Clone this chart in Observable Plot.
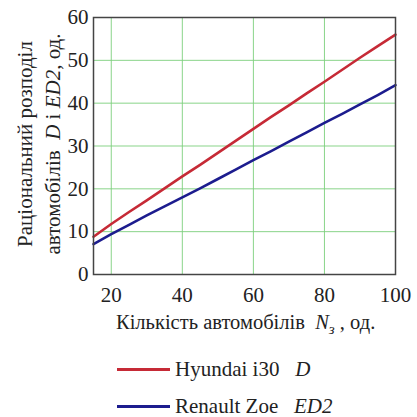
<!DOCTYPE html>
<html><head><meta charset="utf-8">
<script src="https://cdn.jsdelivr.net/npm/d3@7"></script>
<script src="https://cdn.jsdelivr.net/npm/@observablehq/plot@0.6"></script>
<style>
body{margin:0;background:#fff;color:#222;}
#wrap, #wrap *, svg text{font-family:'Liberation Serif' !important;}
#wrap{position:relative;width:417px;height:417px;overflow:hidden;}
#chart{position:absolute;left:0;top:0;}
.ylab{position:absolute;white-space:nowrap;font-size:21px;line-height:1;transform:translate(-50%,-50%) rotate(-90deg);}
#xlab{position:absolute;left:116px;top:312px;font-size:20.5px;line-height:1;white-space:nowrap;}
.leg{position:absolute;left:117px;font-size:21px;line-height:1;white-space:nowrap;display:flex;align-items:center;height:22px;}
.leg span.sw{display:inline-block;width:53px;height:3px;margin-right:5px;}
i{font-style:italic;}
</style></head>
<body><div id="wrap"><div id="chart"></div>
<div class="ylab" style="left:25px;top:144px;font-family:'Liberation Serif'">Раціональний розподіл</div>
<div class="ylab" style="left:53px;top:144px;font-family:'Liberation Serif'">автомобілів&nbsp; <i>D</i> і <i>ED2</i>, од.</div>
<div id="xlab" style="font-family:'Liberation Serif'">Кількість автомобілів&nbsp; <i>N</i><sub style="font-size:15px"><i>з</i></sub> , од.</div>
<div class="leg" style="top:358px;font-family:'Liberation Serif'"><span class="sw" style="background:#c62a36"></span>Hyundai i30&nbsp;&nbsp;&nbsp;<i>D</i></div>
<div class="leg" style="top:395px;font-family:'Liberation Serif'"><span class="sw" style="background:#1c1c8e"></span>Renault Zoe&nbsp;&nbsp;&nbsp;<i>ED2</i></div>
</div>
<script>
const nValues = [15,20,25,30,35,40,45,50,55,60,65,70,75,80,85,90,95,100];
const hyundaiD = [8.8,11.8,14.6,17.3,20.1,22.9,25.6,28.4,31.2,34.0,36.8,39.5,42.3,45.0,47.8,50.6,53.3,56.0];
const renaultED2 = [7.1,9.4,11.6,13.8,15.9,18.0,20.1,22.3,24.5,26.7,28.8,31.0,33.2,35.4,37.5,39.7,41.9,44.2];
const xTicks = [20,40,60,80,100];
const yTicks = [0,10,20,30,40,50,60];

const rows = [];
nValues.forEach((n,i)=>{rows.push({n, v:hyundaiD[i], s:"Hyundai i30 D"});rows.push({n, v:renaultED2[i], s:"Renault Zoe ED2"});});

const chart = Plot.plot({
  width:417, height:312,
  marginLeft:93, marginRight:22, marginTop:17, marginBottom:38,
  style:{fontFamily:"Liberation Serif", fontSize:"21px", color:"#222", background:"white", overflow:"visible"},
  x:{domain:[15,100], ticks:xTicks, tickSize:0, tickPadding:13, label:null},
  y:{domain:[0,60], ticks:yTicks, tickSize:0, tickPadding:5, label:null},
  color:{domain:["Hyundai i30 D","Renault Zoe ED2"], range:["#c62a36","#1c1c8e"]},
  marks:[
    Plot.gridX(xTicks,{stroke:"#7ccf7c", strokeOpacity:0.9, strokeWidth:1}),
    Plot.gridY(yTicks,{stroke:"#7ccf7c", strokeOpacity:0.9, strokeWidth:1}),
    Plot.line(rows,{x:"n", y:"v", stroke:"s", strokeWidth:2.6}),
    Plot.frame({stroke:"#444", strokeWidth:1.5})
  ]
});
document.getElementById("chart").appendChild(chart);
</script></body></html>
